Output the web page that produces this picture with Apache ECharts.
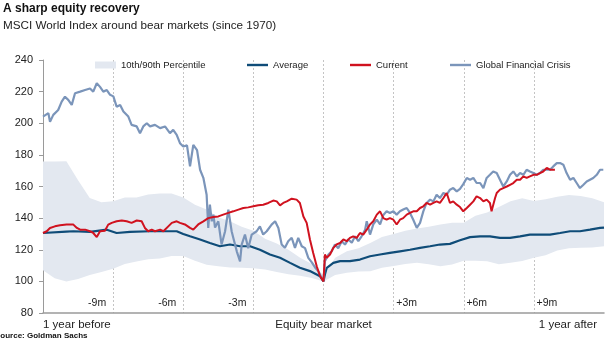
<!DOCTYPE html>
<html>
<head>
<meta charset="utf-8">
<script src="https://cdn.jsdelivr.net/npm/echarts@6/dist/echarts.min.js"></script>
<style>
html,body{margin:0;padding:0;background:#fff;}
#chart{width:605px;height:341px;}
</style>
</head>
<body>
<div id="chart"></div>
<script>
// x values are months relative to the bear-market trough
const gfcX = [-12.00,-11.77,-11.70,-11.56,-11.35,-11.20,-11.06,-10.92,-10.77,-10.63,-10.41,-10.20,-9.99,-9.85,-9.70,-9.56,-9.42,-9.27,-9.13,-8.99,-8.85,-8.70,-8.56,-8.35,-8.21,-7.99,-7.85,-7.71,-7.56,-7.42,-7.21,-6.99,-6.78,-6.57,-6.43,-6.28,-6.14,-6.00,-5.93,-5.84,-5.71,-5.57,-5.41,-5.28,-5.14,-5.00,-4.93,-4.86,-4.78,-4.71,-4.64,-4.50,-4.36,-4.21,-4.07,-3.93,-3.86,-3.71,-3.57,-3.50,-3.36,-3.22,-3.07,-2.86,-2.72,-2.58,-2.43,-2.22,-2.07,-1.93,-1.79,-1.65,-1.51,-1.36,-1.22,-1.08,-0.93,-0.79,-0.65,-0.50,-0.36,-0.22,0,0.06,0.21,0.35,0.49,0.63,0.78,0.92,1.06,1.21,1.35,1.49,1.63,1.78,1.85,1.99,2.13,2.28,2.42,2.56,2.70,2.84,2.99,3.13,3.27,3.41,3.56,3.70,3.84,3.99,4.13,4.27,4.41,4.56,4.70,4.84,4.98,5.13,5.27,5.41,5.55,5.70,5.84,5.98,6.13,6.27,6.41,6.55,6.70,6.84,6.98,7.12,7.26,7.41,7.55,7.69,7.84,7.98,8.12,8.27,8.41,8.55,8.69,8.83,8.98,9.12,9.26,9.40,9.55,9.69,9.83,9.98,10.12,10.26,10.40,10.55,10.69,10.83,10.97,11.11,11.26,11.40,11.54,11.69,11.83,11.97];
const gfcY = [204.2,206.4,201,205.3,208.4,213.7,216.8,214.8,211.6,219,220,221,222,220,225.3,223,220,221,218,217,210.5,211.6,207.4,204.2,199,198,193.7,198,200,198,199,196.9,198,193.7,195.8,192.7,187.4,185.3,185,186,172.7,186.3,183,170.6,165.5,154.8,133.8,148.5,138,142.2,134,138,123.3,131.7,145.4,131.7,127.6,119,112.7,123.3,129.6,121,129.6,131.7,134.8,129.6,131.7,135.9,138,133.8,123.3,121.2,125.4,127.6,121.2,127.5,122.2,121,114.9,112,108.8,106.4,100,112.7,117,119,123.3,121,125.4,123.3,126.5,124.5,128.5,125.4,128.5,132.7,138,129.6,136,139,136,142,144.3,143.3,144.3,142.2,144.3,145.4,146.4,143.3,139,133.8,137,144.3,149.6,151.7,150.6,154.8,152.7,155.9,154.8,158,159,156.9,158.5,161.5,165.4,164.3,165.4,162.2,162.2,159,165.4,167.4,169.5,168.5,164.3,160,163.2,167.4,169.5,166.4,168.5,167.4,170.6,169.5,168.5,167.4,168.5,170.6,170.6,170.6,172.7,174.8,174.8,173.8,168.5,164.3,165.4,162.2,159,161,163.2,164.3,165.4,167.4,170.6,170.6];

const curX = [-12.00,-11.84,-11.70,-11.49,-11.27,-10.99,-10.70,-10.55,-10.41,-10.20,-9.99,-9.85,-9.70,-9.56,-9.35,-9.21,-9.06,-8.85,-8.63,-8.42,-8.21,-7.99,-7.78,-7.64,-7.50,-7.35,-7.21,-6.99,-6.85,-6.64,-6.49,-6.28,-6.14,-5.93,-5.71,-5.57,-5.36,-5.14,-4.93,-4.71,-4.50,-4.29,-4.07,-3.86,-3.64,-3.43,-3.22,-3.00,-2.79,-2.58,-2.36,-2.15,-2.00,-1.86,-1.72,-1.57,-1.36,-1.15,-1.01,-0.86,-0.72,-0.65,-0.58,-0.44,-0.29,-0.15,0,0.06,0.14,0.28,0.42,0.56,0.71,0.85,0.99,1.13,1.27,1.42,1.56,1.70,1.85,1.99,2.13,2.28,2.42,2.56,2.70,2.84,2.99,3.13,3.27,3.41,3.56,3.70,3.84,3.99,4.13,4.27,4.41,4.56,4.70,4.84,4.98,5.13,5.27,5.41,5.55,5.70,5.84,5.98,6.13,6.27,6.41,6.55,6.70,6.84,6.98,7.12,7.19,7.26,7.34,7.41,7.55,7.69,7.84,7.98,8.12,8.27,8.41,8.55,8.69,8.83,8.98,9.12,9.26,9.40,9.55,9.69,9.83,9.90];
const curY = [130.6,131.7,133.8,134.8,135.5,135.9,135.9,133.8,132.7,132.7,131.7,130.6,128,131.7,132,135.9,137,138,138.5,138,137,138.5,138,133.8,131.7,132.7,131.7,132.7,131.7,134.8,137,138,137,136,133.8,132.7,136,138,140,140.7,141.1,142.2,143.3,144.3,145.4,146.4,146.8,147.5,148.1,148.5,149.6,151.1,150.6,148.1,149.6,150.6,152.3,151.7,149.6,141,137,138,126.5,118,109.6,103.4,100,117,115,117,121.2,123.3,124.3,126.5,125.4,127.5,128.5,127.5,130.6,129.6,132.7,136,138,142.2,144.3,140,139,140,139,136,139,140,142.2,143.3,144.3,144.3,146.4,147.5,149.6,148.5,149.6,150.6,149.6,152.7,155.9,149.6,150.6,148.5,147,144.3,146.4,148.5,150.6,153.8,152.7,150.6,151.7,149.6,144.3,143.3,152.7,155.9,158,159,160,161.1,162.2,164.3,164.3,166.4,165.4,166.4,167.4,167.4,168.5,169.5,171.7,170.6,170.6,170.6];

const avgX = [-12,-11,-10.70,-9.99,-9.27,-8.85,-8.28,-7.42,-6.71,-6.28,-6.00,-5.71,-5.28,-4.86,-4.43,-4.00,-3.57,-3.14,-2.72,-2.29,-1.86,-1.43,-1.01,-0.58,-0.15,0,0.06,0.14,0.42,0.71,1.13,1.56,1.99,2.42,2.84,3.27,3.70,4.13,4.56,4.98,5.41,5.84,6.27,6.70,7.12,7.55,7.98,8.41,8.83,9.26,9.69,10.12,10.55,10.97,11.40,11.83,12];
const avgY = [130.6,131.5,131.7,131.3,132.7,130.6,131.3,131.7,131.7,131.7,130,128.5,126.5,124.3,122.2,123.3,122.2,122.2,120,117,114.9,111.7,108.6,106.5,103.3,100,104.3,108.6,111.7,112.8,112.8,113.8,115.9,117,118,119,120,121.2,122.2,123.3,123.7,126,128,128.5,128.5,127.5,127.5,128.5,129.6,129.6,129.6,130.6,131.7,131.7,132.7,133.8,134];

const bandX = [-12,-11.5,-11,-10.5,-10,-9.5,-9,-8.5,-8,-7.5,-7,-6.5,-6,-5.5,-5,-4.5,-4,-3.5,-3,-2.5,-2,-1.5,-1,-0.5,0,0.5,1,1.5,2,2.5,3,3.5,4,4.5,5,5.5,6,6.5,7,7.5,8,8.5,9,9.5,10,10.5,11,11.5,12];
const p90 = [175.8,175.8,176,164,152.7,150,150.6,153,153,155,155.5,155.5,153,148.5,145.5,140.5,138,134.5,132,127,124,120,115,111,104,115,119,121,124.3,128,130,132,133.5,134.5,136,137,137,141.5,143.5,147,150.6,152.5,150.8,152,153.5,154.7,154,152.5,150];
const p10 = [107,102,100,101.5,104,106,108,111,112.5,114,114.5,116,116,113,110.5,109.6,108.8,108.6,108.3,107.5,106,104.5,103.5,102.2,100,104,105.4,106.2,106.4,108.6,109.8,111,111.7,110.8,109.6,110.6,113,113,112.7,110.8,111.7,112.9,115,116.5,119.5,121,121.2,121.5,122.2];

const yTicks = {min: 80, max: 240, step: 20};
const phaseLabels = {'-9': '-9m', '-6': '-6m', '-3': '-3m', '3': '+3m', '6': '+6m', '9': '+9m'};
const edgeLabels = {'-12': '1 year before', '0': 'Equity bear market', '12': '1 year after'};

const FONT = 'Liberation Sans, Arial, sans-serif';
const bandColor = '#e3e8f0';
const avgColor = '#0f4c78';
const curColor = '#d0121f';
const gfcColor = '#7b95ba';

const pairs = (xs, ys) => xs.map((x, i) => [x, ys[i]]);
const bandData = bandX.map((x, i) => [x, p10[i], p90[i]]);

const chart = echarts.init(document.getElementById('chart'), null, {renderer: 'canvas'});
const legendBase = {
  top: 60, padding: 0, itemWidth: 21, itemHeight: 7, selectedMode: false,
  textStyle: {fontSize: 9.5, color: '#222', fontFamily: FONT}
};
const lineIcon = 'path://M0,0 L21,0 L21,2.4 L0,2.4 Z';
chart.setOption({
  animation: false,
  backgroundColor: '#fff',
  title: [
    {text: 'A sharp equity recovery', left: 3, top: 3, padding: 0,
     textStyle: {fontSize: 12, fontWeight: 'bold', color: '#111', fontFamily: FONT}},
    {text: 'MSCI World Index around bear markets (since 1970)', left: 3, top: 20, padding: 0,
     textStyle: {fontSize: 11.7, fontWeight: 'normal', color: '#222', fontFamily: FONT}},
    {text: 'Source: Goldman Sachs', left: -5, top: 332, padding: 0,
     textStyle: {fontSize: 8, fontWeight: 'bold', color: '#111', fontFamily: FONT}}
  ],
  legend: [
    Object.assign({}, legendBase, {left: 95, data: [{name: '10th/90th Percentile', icon: 'rect', itemStyle: {color: bandColor}}]}),
    Object.assign({}, legendBase, {left: 247, itemHeight: 2.4, data: [{name: 'Average', icon: lineIcon, itemStyle: {color: avgColor}}]}),
    Object.assign({}, legendBase, {left: 350, itemHeight: 2.4, data: [{name: 'Current', icon: lineIcon, itemStyle: {color: curColor}}]}),
    Object.assign({}, legendBase, {left: 450, itemHeight: 2.4, data: [{name: 'Global Financial Crisis', icon: lineIcon, itemStyle: {color: gfcColor}}]})
  ],
  grid: {left: 43, right: 1, top: 60, bottom: 28, containLabel: false},
  xAxis: [
    {type: 'value', min: -12, max: 12, interval: 12,
     axisLine: {show: true, onZero: false, lineStyle: {color: '#9a9a9a', width: 1.5}},
     axisTick: {show: false}, splitLine: {show: false},
     axisLabel: {fontSize: 11.5, color: '#222', fontFamily: FONT, margin: 6,
       alignMinLabel: 'left', alignMaxLabel: 'right', showMinLabel: true, showMaxLabel: true,
       formatter: v => { const t = edgeLabels[String(v)] || ''; return v === 12 ? '{r|' + t + '}' : t; },
       rich: {r: {fontSize: 11.5, color: '#222', fontFamily: FONT, padding: [0, 7, 0, 0]}}}},
    {type: 'value', min: -12, max: 12, interval: 3, position: 'bottom',
     axisLine: {show: false, onZero: false}, axisTick: {show: false},
     splitLine: {show: true, showMinLine: false, showMaxLine: false,
       lineStyle: {color: '#c4c4c4', type: [2, 2], width: 1}},
     axisLabel: {inside: true, margin: 4, showMinLabel: false, showMaxLabel: false,
       formatter: v => { const t = phaseLabels[String(v)]; if (!t) return ''; return v < 0 ? '{n|' + t + '}' : '{p|' + t + '}'; },
       rich: {
         n: {fontSize: 10.5, color: '#222', fontFamily: FONT, padding: [0, 32, 0, 0]},
         p: {fontSize: 10.5, color: '#222', fontFamily: FONT, padding: [0, 0, 0, 26]}
       }}}
  ],
  yAxis: {type: 'value', min: yTicks.min, max: yTicks.max, interval: yTicks.step,
    axisLine: {show: true, onZero: false, lineStyle: {color: '#9a9a9a', width: 1}},
    axisTick: {show: true, length: 4, lineStyle: {color: '#9a9a9a'}},
    splitLine: {show: false},
    axisLabel: {fontSize: 11, color: '#222', fontFamily: FONT, margin: 10}},
  series: [
    {type: 'custom', name: '10th/90th Percentile', xAxisIndex: 0, data: bandData,
     encode: {x: 0, y: [1, 2]}, silent: true, itemStyle: {color: bandColor}, z: 1,
     renderItem: function (params, api) {
       if (params.dataIndex !== 0) return null;
       const pts = [];
       for (let i = 0; i < bandData.length; i++) pts.push(api.coord([bandData[i][0], bandData[i][2]]));
       for (let i = bandData.length - 1; i >= 0; i--) pts.push(api.coord([bandData[i][0], bandData[i][1]]));
       return {type: 'polygon', shape: {points: pts}, style: {fill: bandColor}};
     }},
    {type: 'line', name: 'Average', data: pairs(avgX, avgY), symbol: 'none',
     itemStyle: {color: avgColor}, lineStyle: {color: avgColor, width: 2.2}, z: 3},
    {type: 'line', name: 'Global Financial Crisis', data: pairs(gfcX, gfcY), symbol: 'none',
     itemStyle: {color: gfcColor}, lineStyle: {color: gfcColor, width: 2.2}, z: 4},
    {type: 'line', name: 'Current', data: pairs(curX, curY), symbol: 'none',
     itemStyle: {color: curColor}, lineStyle: {color: curColor, width: 2}, z: 5}
  ]
});
</script>
</body>
</html>
